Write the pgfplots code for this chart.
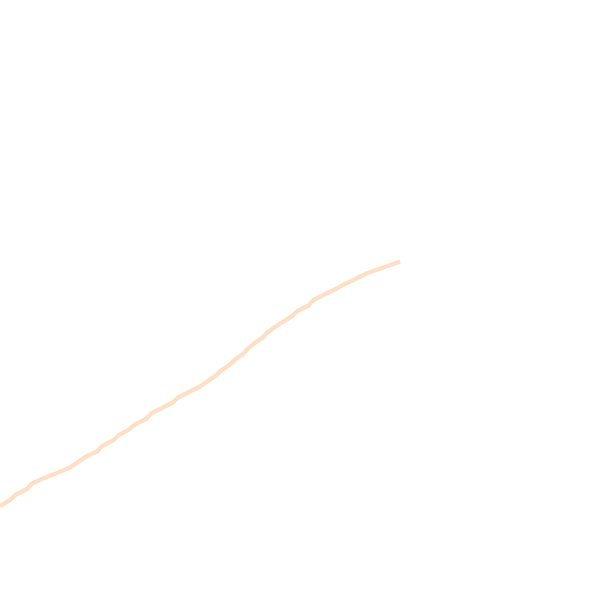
\documentclass[border=0pt]{standalone}
\usepackage{pgfplots}
\pgfplotsset{compat=1.18}
\definecolor{peach}{RGB}{255,223,195}
\begin{document}
\begin{tikzpicture}
\begin{axis}[
width=6cm,
height=6cm,
scale only axis,
hide axis,
xmin=0, xmax=600,
ymin=0, ymax=600,
y dir=reverse,
clip=true,
]
% frame for the page size, drawn with nothing
\path (rel axis cs:0,0) rectangle (rel axis cs:1,1);

\addplot [color=peach, line width=1.15pt, no marks]
  table[row sep=crcr]{
  0 506\\
  10 500\\
  16 494.5\\
  27 489\\
  32 483.5\\
  43 478.5\\
  57 473\\
  70 467.5\\
  78 462\\
  86 456.5\\
  97 451.5\\
  102 446\\
  113 440.5\\
  119 435\\
  129 429.5\\
  135 424.5\\
  146 419\\
  151 413.5\\
  162 408\\
  173 402.5\\
  178 397.5\\
  189 392\\
  200 386.5\\
  208 381\\
  216 375.5\\
  221 370.5\\
  229.5 365\\
  235 359.5\\
  243 354\\
  248 348.5\\
  254 343.5\\
  262 338\\
  267.5 332.5\\
  275 327\\
  283.5 321.5\\
  291.5 316.5\\
  297.5 311\\
  308.5 305.5\\
  313.5 300\\
  324.5 294.5\\
  335.5 289\\
  346 283.5\\
  356.5 278.5\\
  367.5 273\\
  383.5 267.5\\
  400 261.5\\
};

\end{axis}
\end{tikzpicture}
\end{document}
